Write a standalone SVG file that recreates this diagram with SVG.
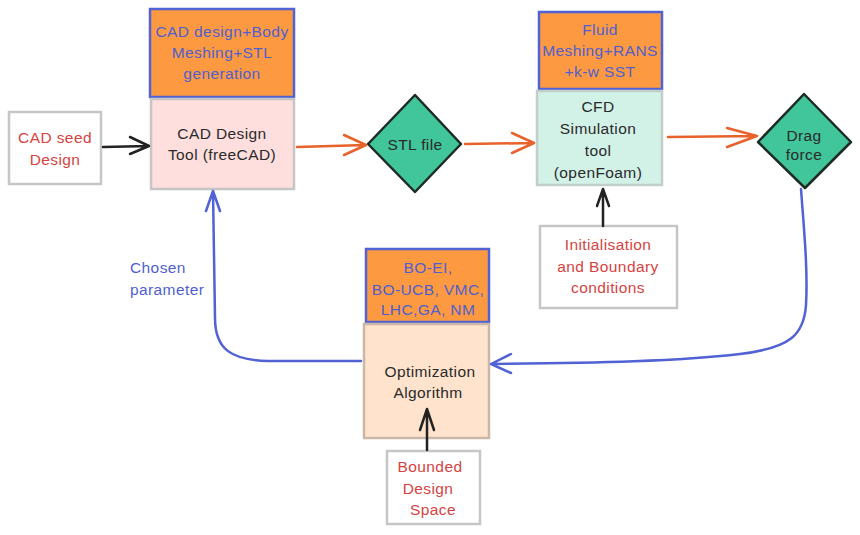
<svg xmlns="http://www.w3.org/2000/svg" width="860" height="535" viewBox="0 0 860 535">
<defs>
<style>
text{font-family:"Liberation Sans","DejaVu Sans",sans-serif;font-size:15.5px;letter-spacing:0.4px;text-anchor:middle}
.blue{fill:#4f5fd0}
.red{fill:#d6433f}
.dark{fill:#2a2a2a}
.gray{fill:#ffffff;stroke:#c6c6c6;stroke-width:2.5}
.topbox{fill:#fd9a41;stroke:#5062d4;stroke-width:2.5}
.dia{fill:#41c59b;stroke:#1e2a24;stroke-width:2.5;stroke-linejoin:round}
.conn{fill:none;stroke-width:2.5;stroke-linecap:round;stroke-linejoin:round}
.or{stroke:#e8622c}
.bl{stroke:#5062d4}
.bk{stroke:#222222}
</style>
</defs>
<rect width="860" height="535" fill="#ffffff"/>

<g id="seed">
<rect class="gray" x="9" y="112" width="92" height="72"/>
<text class="red" x="55" y="143">CAD seed</text>
<text class="red" x="55" y="165">Design</text>
</g>

<g id="cad-note">
<rect class="topbox" x="150" y="9" width="144" height="88"/>
<text class="blue" x="222" y="37">CAD design+Body</text>
<text class="blue" x="222" y="58">Meshing+STL</text>
<text class="blue" x="222" y="79">generation</text>
</g>

<g id="cad-tool">
<rect x="151" y="99" width="143" height="90" fill="#ffdede" stroke="#c6c6c6" stroke-width="2.5"/>
<text class="dark" x="222" y="139">CAD Design</text>
<text class="dark" x="222" y="160">Tool (freeCAD)</text>
</g>

<g id="stl">
<polygon class="dia" points="415,95 461,144 415,192 368,144"/>
<text class="dark" x="415" y="150">STL file</text>
</g>

<g id="cfd-note">
<rect class="topbox" x="539" y="12" width="123" height="77"/>
<text class="blue" x="600" y="35">Fluid</text>
<text class="blue" x="600" y="56">Meshing+RANS</text>
<text class="blue" x="600" y="77">+k-w SST</text>
</g>

<g id="cfd">
<rect x="537" y="91" width="125" height="94" fill="#d2f1e7" stroke="#c2cfc9" stroke-width="2.5"/>
<text class="dark" x="598" y="112">CFD</text>
<text class="dark" x="598" y="134">Simulation</text>
<text class="dark" x="598" y="156">tool</text>
<text class="dark" x="598" y="178">(openFoam)</text>
</g>

<g id="drag">
<polygon class="dia" points="804,94 851,142 805,188 758,142"/>
<text class="dark" x="804" y="141">Drag</text>
<text class="dark" x="804" y="160">force</text>
</g>

<g id="init">
<rect class="gray" x="540" y="226" width="137" height="82"/>
<text class="red" x="608" y="250">Initialisation</text>
<text class="red" x="608" y="272">and Boundary</text>
<text class="red" x="608" y="293">conditions</text>
</g>

<g id="opt-note">
<rect class="topbox" x="366" y="249" width="123" height="73"/>
<text class="blue" x="428" y="273">BO-EI,</text>
<text class="blue" x="428" y="295">BO-UCB, VMC,</text>
<text class="blue" x="428" y="315">LHC,GA, NM</text>
</g>

<g id="opt">
<rect x="364" y="324" width="125" height="114" fill="#ffe3cd" stroke="#c9b8a8" stroke-width="2.5"/>
<text class="dark" x="430" y="377">Optimization</text>
<text class="dark" x="428" y="398">Algorithm</text>
</g>

<g id="bounded">
<rect class="gray" x="387" y="451" width="93" height="73"/>
<text class="red" x="430" y="472">Bounded</text>
<text class="red" x="428" y="494">Design</text>
<text class="red" x="433" y="515">Space</text>
</g>

<g id="label-chosen">
<text class="blue" x="130" y="273" style="text-anchor:start">Chosen</text>
<text class="blue" x="130" y="295" style="text-anchor:start">parameter</text>
</g>

<g id="connectors">
<path class="conn bk" d="M103,147 L149,146 M130,137 L149,146 L130,154"/>
<path class="conn or" d="M297,147 L366,145 M344,135 L366,145 L344,155"/>
<path class="conn or" d="M465,144 L534,143 M512,133 L534,143 L512,153"/>
<path class="conn or" d="M668,137 L757,136 M727,128 L757,136 L727,147"/>
<path class="conn bk" d="M603,226 L603,189 M597,206 L603,189 M609,206 L603,189"/>
<path class="conn bk" d="M427,450 L427,409 M420,430 L427,409 M434,430 L427,409"/>
<path class="conn bl" d="M801,189 C804,230 808,270 806,305 C804,335 790,348 740,354 C680,361 600,363 491,364 M511,354 L491,364 L511,373"/>
<path class="conn bl" d="M361,361 L268,361 C232,360 215,350 215,318 L213,191 M206,211 L213,191 L220,211"/>
</g>
</svg>
